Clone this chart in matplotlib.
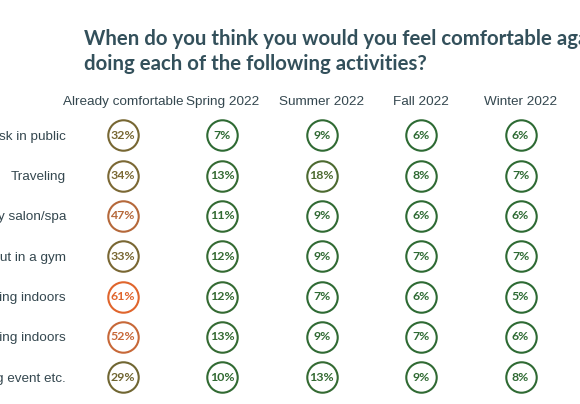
import numpy as np
import matplotlib.pyplot as plt
from matplotlib import font_manager
from matplotlib.colors import LinearSegmentedColormap, Normalize

title = "When do you think you would you feel comfortable again\ndoing each of the following activities?"
periods = ["Already comfortable", "Spring 2022", "Summer 2022", "Fall 2022", "Winter 2022"]
activities = ["Not wearing a mask in public", "Traveling", "Going to a beauty salon/spa",
              "Working out in a gym", "Shopping indoors", "Dining indoors",
              "Attending a sporting event etc."]

already = [32, 34, 47, 33, 61, 52, 29]
spring = [7, 13, 11, 12, 12, 13, 10]
summer = [9, 18, 9, 9, 7, 9, 13]
fall = [6, 8, 6, 7, 6, 7, 9]
winter = [6, 7, 6, 7, 5, 6, 8]

values = np.array([already, spring, summer, fall, winter])  # columns x rows

names = {f.name for f in font_manager.fontManager.ttflist}
narrow = "Liberation Sans Narrow" if "Liberation Sans Narrow" in names else "Liberation Sans"

cmap = LinearSegmentedColormap.from_list(
    "comfort", [(0.0, "#2c6a33"), (0.15, "#356a32"), (0.24, "#4e6a30"),
                (0.45, "#746632"), (0.52, "#7b6834"), (0.75, "#b4683a"),
                (0.85, "#c96838"), (1.0, "#e0652c")])
norm = Normalize(vmin=5, vmax=61)

W, H = 580, 404
fig = plt.figure(figsize=(W / 100, H / 100), dpi=100)
fig.patch.set_facecolor("white")

# axes placed so column/row indices land on the reference grid
ax = fig.add_axes([73.3 / W, (H - 397.2) / H, 497 / W, 281.9 / H])
ax.set_xlim(-0.5, 4.5)
ax.set_ylim(6.5, -0.5)
for s in ax.spines.values():
    s.set_visible(False)

for ci in range(len(periods)):
    for ri in range(len(activities)):
        v = values[ci, ri]
        c = cmap(norm(v))
        ax.scatter(ci, ri, s=480, facecolor="white", edgecolor=c, linewidth=1.5, zorder=2)
        ax.text(ci, ri, f"{v}%", ha="center", va="center", color=c,
                fontsize=8.9, fontfamily="Lato", fontweight="bold", zorder=3)

ax.set_xticks(range(len(periods)))
ax.set_xticklabels(periods, fontfamily=narrow, fontsize=9.7, color="#34474f")
ax.xaxis.tick_top()
ax.tick_params(axis="x", length=0, pad=5)
ax.set_yticks(range(len(activities)))
ax.set_yticklabels(activities, fontfamily=narrow, fontsize=9.7, color="#34474f")
ax.tick_params(axis="y", length=0, pad=5.3)

line1, line2 = title.split("\n")
fig.text(84 / W, 1 - 45 / H, line1, fontsize=14.7, fontweight="bold",
         fontfamily="Lato", color="#33505b", va="baseline")
fig.text(84 / W, 1 - 70 / H, line2, fontsize=14.7, fontweight="bold",
         fontfamily="Lato", color="#33505b", va="baseline")

fig.savefig("out.png", dpi=100)
